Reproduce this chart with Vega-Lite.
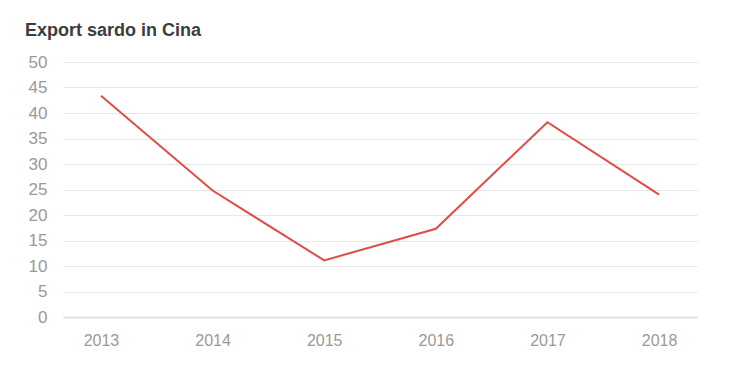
{
  "$schema": "https://vega.github.io/schema/vega-lite/v6.json",
  "width": 634,
  "height": 255,
  "autosize": {"type": "none"},
  "padding": {"left": 63, "top": 62, "right": 58, "bottom": 51},
  "background": "white",
  "config": {
    "view": {"stroke": null},
    "font": "Liberation Sans"
  },
  "title": {
    "text": "Export sardo in Cina",
    "anchor": "start",
    "frame": "group",
    "dx": -38,
    "dy": 3,
    "offset": 16,
    "fontSize": 18,
    "fontWeight": "bold",
    "color": "#3d3d3d",
    "font": "Liberation Sans"
  },
  "data": {
    "values": [
      {"anno": "2013", "valore": 43.4},
      {"anno": "2014", "valore": 24.8},
      {"anno": "2015", "valore": 11.1},
      {"anno": "2016", "valore": 17.3},
      {"anno": "2017", "valore": 38.2},
      {"anno": "2018", "valore": 24.0}
    ]
  },
  "mark": {"type": "line", "color": "#e04c46", "strokeWidth": 2},
  "encoding": {
    "x": {
      "field": "anno",
      "type": "ordinal",
      "scale": {"type": "point", "padding": 0.34},
      "axis": {
        "title": null,
        "labelAngle": 0,
        "labelFontSize": 16,
        "labelColor": "#999999",
        "labelPadding": 15,
        "ticks": false,
        "domain": true,
        "domainColor": "#e0e0e0",
        "domainWidth": 2,
        "grid": false
      }
    },
    "y": {
      "field": "valore",
      "type": "quantitative",
      "scale": {"domain": [0, 50]},
      "axis": {
        "title": null,
        "values": [0, 5, 10, 15, 20, 25, 30, 35, 40, 45, 50],
        "labelFontSize": 17,
        "labelColor": "#999999",
        "labelPadding": 16,
        "ticks": false,
        "domain": false,
        "grid": true,
        "gridColor": "#e6e6e6",
        "gridWidth": 1
      }
    }
  }
}
